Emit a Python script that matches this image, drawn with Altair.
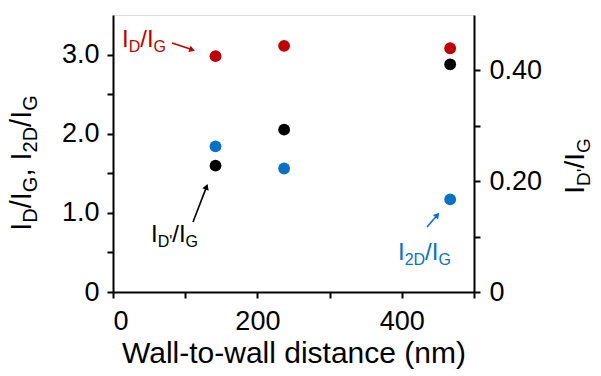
import math
import altair as alt
import pandas as pd

# ---- data ----
distance = [142, 237, 467]          # wall-to-wall distance (nm)
id_ig = [2.98, 3.11, 3.08]          # I_D/I_G   (left axis)
i2d_ig = [1.84, 1.56, 1.17]         # I_2D/I_G  (left axis)
idp_ig = [0.228, 0.293, 0.411]      # I_D'/I_G  (right axis)

x_ticks = [0, 100, 200, 300, 400, 500]
left_ticks = [0, 0.5, 1.0, 1.5, 2.0, 2.5, 3.0]
right_ticks = [0, 0.1, 0.2, 0.3, 0.4]

df = pd.DataFrame({"d": distance, "id": id_ig, "i2d": i2d_ig, "idp": idp_ig})
one = pd.DataFrame({"a": [0]})

FONT = "Liberation Sans"
RED = "#c00000"
BLUE = "#0a72c4"
BLACK = "#000000"

W, H = 361, 277
PAD_L, PAD_T = 113, 15

axis_style = dict(
    domainColor=BLACK, domainWidth=2, tickColor=BLACK, tickWidth=2, tickSize=6,
    labelFont=FONT, labelFontSize=27, labelColor=BLACK, grid=False,
)

xenc = alt.X(
    "d:Q",
    scale=alt.Scale(domain=[0, 500], nice=False),
    axis=alt.Axis(
        values=x_ticks, format="d",
        labelExpr="datum.value % 200 == 0 ? datum.label : ''",
        title="Wall-to-wall distance (nm)", titleFont=FONT, titleFontSize=30,
        titleFontWeight="normal", titleColor=BLACK, titlePadding=4, labelPadding=10,
        **axis_style,
    ),
)

left_axis = alt.Axis(
    values=left_ticks, title=None, orient="left", labelPadding=8,
    labelExpr="datum.value == 0 ? '0' : (datum.value % 1 == 0 ? format(datum.value, '.1f') : '')",
    **axis_style,
)
right_axis = alt.Axis(
    values=right_ticks, title=None, orient="right", labelPadding=9,
    labelExpr="datum.value == 0 ? '0' : (round(datum.value * 10) % 2 == 0 ? format(datum.value, '.2f') : '')",
    **axis_style,
)

lscale = alt.Scale(domain=[0, 3.5], nice=False)
rscale = alt.Scale(domain=[0, 0.5], nice=False)

base = alt.Chart(df)
red = base.mark_circle(size=140, opacity=1, color=RED).encode(
    x=xenc, y=alt.Y("id:Q", scale=lscale, axis=left_axis))
blue = base.mark_circle(size=140, opacity=1, color=BLUE).encode(
    x=xenc, y=alt.Y("i2d:Q", scale=lscale, axis=left_axis))
black = base.mark_circle(size=140, opacity=1, color=BLACK).encode(
    x=xenc, y=alt.Y("idp:Q", scale=rscale, axis=right_axis))

# ---- rich text helpers (subscripts) ----
WIDTHS = {"I": 0.278, "D": 0.722, "G": 0.778, "/": 0.278, "2": 0.556,
          "'": 0.191, ",": 0.278, " ": 0.278}


def tw(s, size):
    return sum(WIDTHS[c] for c in s) * size


def rich(segments, x0, y0, color, size, sub_size, sub_shift, angle=0, center=False):
    total = sum(tw(t, sub_size if s else size) for t, s in segments)
    pos = -total / 2 if center else 0
    layers = []
    for text, is_sub in segments:
        fs = sub_size if is_sub else size
        shift = sub_shift if is_sub else 0
        if angle == 0:
            x, y = x0 + pos, y0 + shift
        else:
            x, y = x0 + shift, y0 - pos
        kw = dict(text=text, font=FONT, fontSize=fs, color=color,
                  align="left", baseline="alphabetic")
        if angle:
            kw["angle"] = angle
        layers.append(alt.Chart(one).mark_text(**kw).encode(
            x=alt.value(x), y=alt.value(y)))
        pos += tw(text, fs)
    return layers


def arrow(x1, y1, x2, y2, color):
    # absolute pixel coords -> plot coords
    x1, y1, x2, y2 = x1 - PAD_L, y1 - PAD_T, x2 - PAD_L, y2 - PAD_T
    dx, dy = x2 - x1, y2 - y1
    L = math.hypot(dx, dy)
    ux, uy = dx / L, dy / L
    hx, hy = x2 - ux * 4, y2 - uy * 4
    ang = math.degrees(math.atan2(dx, -dy)) % 360
    line = alt.Chart(one).mark_rule(color=color, strokeWidth=1.6).encode(
        x=alt.value(x1), y=alt.value(y1), x2=alt.value(hx - ux * 2), y2=alt.value(hy - uy * 2))
    head = alt.Chart(one).mark_point(shape="triangle-up", filled=True, size=45,
                                     color=color, opacity=1, angle=ang).encode(
        x=alt.value(hx), y=alt.value(hy))
    return [line, head]


ann = []
# left axis title (rotated)
ann += rich([("I", 0), ("D", 1), ("/I", 0), ("G", 1), (", I", 0), ("2D", 1), ("/I", 0), ("G", 1)],
            31 - PAD_L, 163 - PAD_T, BLACK, 29, 20, 6, angle=270, center=True)
# right axis title (rotated)
ann += rich([("I", 0), ("D'", 1), ("/I", 0), ("G", 1)],
            584 - PAD_L, 166 - PAD_T, BLACK, 28, 19, 6, angle=270, center=True)
# in-plot labels
ann += rich([("I", 0), ("D", 1), ("/I", 0), ("G", 1)], 122 - PAD_L, 47 - PAD_T, RED, 24, 16, 5)
ann += arrow(172, 43, 196, 51, RED)
ann += rich([("I", 0), ("D'", 1), ("/I", 0), ("G", 1)], 151 - PAD_L, 242 - PAD_T, BLACK, 24, 16, 5)
ann += arrow(193, 222, 208, 183, BLACK)
ann += rich([("I", 0), ("2D", 1), ("/I", 0), ("G", 1)], 398 - PAD_L, 260 - PAD_T, BLUE, 24, 16, 5)
ann += arrow(427, 227, 440, 212, BLUE)

left = alt.layer(red, blue)
chart = alt.layer(left, black, *ann).resolve_scale(y="independent").properties(
    width=W, height=H,
    autosize=alt.AutoSizeParams(type="none"),
    padding={"left": PAD_L, "top": PAD_T, "right": 601 - PAD_L - W, "bottom": 376 - PAD_T - H},
).configure_view(stroke=BLACK, strokeWidth=2).configure(background="white")

chart.save("out.html", embed_options={"renderer": "svg", "actions": False})
